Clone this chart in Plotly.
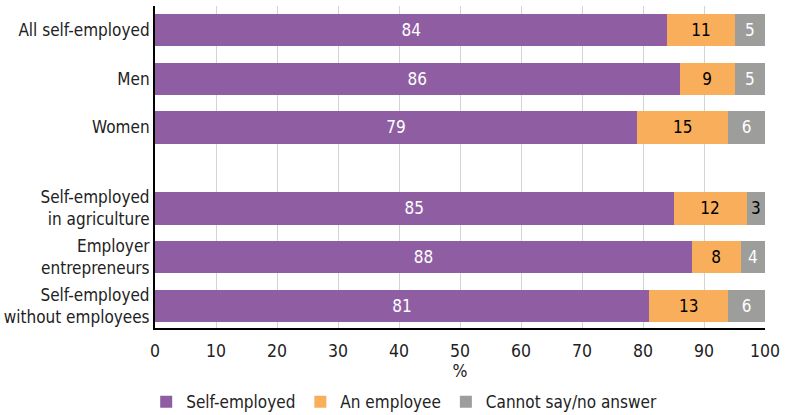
import plotly.graph_objects as go

categories = ["All self-employed", "Men", "Women",
              "Self-employed<br>in agriculture", "Employer<br>entrepreneurs",
              "Self-employed<br>without employees"]
self_employed = [84, 86, 79, 85, 88, 81]
an_employee = [11, 9, 15, 12, 8, 13]
cannot_say = [5, 5, 6, 3, 4, 6]
series_names = ["Self-employed", "An employee", "Cannot say/no answer"]
x_ticks = [0, 10, 20, 30, 40, 50, 60, 70, 80, 90, 100]

# layout: row positions (gap between groups)
ypos = [0, 1, 2, 3.66, 4.66, 5.66]
colors = ["#8F5EA2", "#F8AE5B", "#9D9D9B"]
textcols = [["white"] * 6, ["black"] * 6,
            ["white", "white", "white", "black", "white", "white"]]
FONT = "DejaVu Sans Condensed, Liberation Sans Narrow, Roboto, sans-serif"

fig = go.Figure()
for name, vals, col, tc in zip(series_names, [self_employed, an_employee, cannot_say], colors, textcols):
    fig.add_trace(go.Bar(
        y=ypos, x=vals, orientation="h", name=name,
        marker=dict(color=col, line=dict(width=0)),
        width=0.66,
        text=[str(v) for v in vals], textposition="inside",
        insidetextanchor="middle",
        textfont=dict(color=tc, size=17, family=FONT),
        constraintext="none",
        hoverinfo="skip",
    ))

fig.update_layout(
    barmode="stack",
    width=786, height=415,
    margin=dict(l=155, r=21, t=6, b=87, autoexpand=False),
    paper_bgcolor="white", plot_bgcolor="white",
    font=dict(family=FONT, size=17, color="#222"),
    legend=dict(orientation="h", xref="container", x=0.186, xanchor="left",
                yref="container", y=0.031, yanchor="middle",
                font=dict(size=17, family=FONT), traceorder="normal",
                itemwidth=30),
    xaxis=dict(range=[0, 100], tickvals=x_ticks, ticktext=[str(t) for t in x_ticks],
               showgrid=True, gridcolor="#D3D3D3", gridwidth=1,
               zeroline=False, showline=True, linecolor="black", linewidth=2,
               ticks="", tickfont=dict(size=17.5), ticklabelstandoff=6,
               title=dict(text="%", font=dict(size=17.5), standoff=5),
               automargin=False, fixedrange=True),
    yaxis=dict(range=[6.11, -0.49], tickvals=ypos, ticktext=categories,
               showgrid=False, zeroline=False, showline=True, linecolor="black",
               linewidth=2, ticks="", tickfont=dict(size=17),
               automargin=False, fixedrange=True),
)

fig.write_html("out.html", config={"displayModeBar": False},
               post_script="document.body.style.margin='0';")
